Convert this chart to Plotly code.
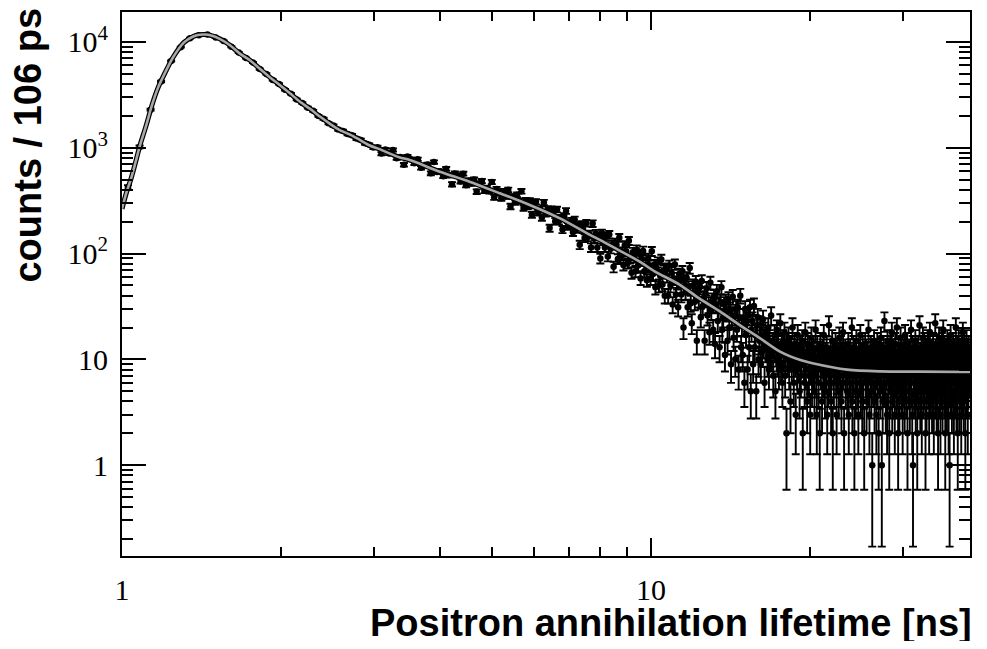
import numpy as np
import plotly.graph_objects as go

# histogram bins (ns); drawn bin centres
BIN_WIDTH = 0.053
FIRST_CENTER = 1.0265

# counts: rising edge + peak, slope, flat tail
counts_rise = [
    421, 1018, 2291, 4230, 6620, 8925, 10850, 11590, 11790, 11010,
    10220, 9010, 7960, 7060, 6390, 5540, 4990, 4380, 4010, 3540,
    3235, 2860, 2650, 2390, 2232, 2001, 1880, 1703, 1621, 1486,
    1440, 1351, 1312, 1220, 1182, 1100, 1068, 1005,
]
counts_slope = [
    1013, 880, 962, 881, 952, 796, 819, 691, 826, 777,
    713, 779, 647, 681, 694, 574, 733, 591, 599, 539,
    632, 549, 452, 572, 547, 481, 569, 443, 491, 459,
    501, 385, 460, 484, 392, 416, 388, 475, 340, 407,
    379, 333, 388, 347, 400, 279, 346, 307, 359, 313,
    388, 270, 317, 280, 315, 233, 285, 308, 244, 262,
    219, 304, 239, 263, 174, 263, 242, 202, 261, 203,
    217, 169, 226, 253, 181, 191, 203, 159, 209, 170,
    183, 121, 188, 169, 140, 194, 143, 152, 114, 192,
    138, 155, 114, 146, 90, 156, 132, 114, 145, 94,
    151, 111, 121, 75, 127, 121, 89, 141, 91, 104,
    78, 120, 105, 81, 132, 90, 66, 103, 92, 68,
    109, 77, 99, 58, 89, 106, 68, 78, 56, 90,
    77, 58, 105, 64, 78, 48, 72, 83, 50, 62,
    88, 51, 69, 40, 72, 61, 40, 77, 50, 66,
    33, 58, 79, 41, 53, 31, 64, 56, 41, 68,
    20, 55, 43, 59, 31, 48, 73, 34, 22, 50,
    42, 35, 54, 15, 45, 37, 48, 25, 55, 32,
    38, 15, 42, 47, 26, 33, 18, 53, 29, 36,
    19, 39, 14, 33, 44, 23, 29, 13, 35, 48,
    19, 25, 33, 11, 35, 28, 15, 37, 20, 29,
    9, 24, 39, 16, 26, 10, 30, 19, 31, 8,
    25, 40, 13, 21, 11, 25, 6, 30, 17, 23,
    8, 26, 13, 31, 5, 19, 23, 9, 32, 13,
    17, 5, 21, 25, 10,
]
counts_tail = [
    15, 21, 9, 17, 12, 24, 14, 6, 18, 13, 16, 10, 20, 8, 15, 12, 26, 11, 14, 7,
    13, 17, 5, 12, 19, 10, 14, 8, 11, 22, 9, 13, 6, 15, 11, 18, 7, 12, 2, 14,
    10, 16, 8, 12, 4, 13, 9, 20, 11, 6, 14, 10, 3, 12, 8, 17, 9, 11, 5, 13,
    7, 10, 15, 2, 12, 9, 6, 18, 8, 11, 4, 14, 10, 7, 13, 3, 9, 16, 6, 11,
    8, 12, 5, 10, 19, 7, 3, 13, 9, 6, 11, 2, 14, 8, 10, 4, 12, 7, 17, 9,
    5, 11, 8, 13, 3, 10, 6, 21, 9, 7, 12, 4, 8, 15, 2, 10, 6, 11, 9, 14,
    7, 3, 12, 8, 10, 5, 16, 9, 6, 13, 4, 11, 7, 18, 8, 2, 10, 12, 6, 9,
    11, 5, 8, 14, 3, 9, 7, 12, 6, 10, 20, 4, 8, 13, 7, 2, 11, 9, 5, 15,
    8, 6, 10, 3, 12, 7, 9, 17, 5, 11, 8, 4, 13, 6, 10, 2, 9, 14, 7, 12,
    4, 8, 11, 6, 19, 9, 3, 10, 7, 13, 5, 8, 1, 12, 6, 9, 15, 4, 10, 7,
    11, 3, 8, 14, 6, 9, 2, 12, 7, 10, 5, 16, 8, 1, 11, 4, 9, 13, 6, 23,
    7, 10, 4, 12, 8, 3, 15, 9, 6, 11, 2, 8, 13, 5, 10, 7, 18, 4, 9, 12,
    6, 8, 11, 3, 14, 7, 9, 5, 20, 10, 6, 2, 12, 8, 4, 11, 7, 16, 9, 5,
    13, 8, 3, 10, 6, 12, 9, 4, 17, 7, 11, 5, 8, 14, 2, 10, 6, 9, 12, 7,
    4, 11, 8, 19, 6, 9, 3, 13, 1, 10, 7, 5, 12, 8, 15, 4, 9, 11, 6, 2,
    10, 7, 13, 5, 8, 21, 9, 4, 11, 6, 12, 3, 8, 10, 16, 7, 5, 9, 14, 6,
    11, 2, 8, 12, 4, 9, 7, 15, 10, 6, 13, 3, 8, 18, 5, 11, 9, 7, 12, 4,
    10, 6, 14, 8, 3, 11, 7, 9, 22, 5, 12, 8, 4, 10, 6, 13, 2, 9, 7, 16,
    5, 11, 8, 3, 12, 9, 6, 14, 10, 4, 7, 19, 8, 11, 5, 13, 9, 2, 10, 6,
    12, 7, 4, 15, 9, 8, 11, 3, 13, 6, 1, 10, 7, 17, 5, 9, 12, 4, 8, 11,
    6, 14, 9, 3, 10, 7, 12, 5, 8, 20, 11, 4, 9, 13, 6, 2, 10, 8, 15, 7,
    9, 4, 12, 6, 11, 8, 3, 14, 10, 5, 7, 18, 9, 12, 4, 8, 13, 6, 10, 2,
    11, 7, 9, 15, 5, 12, 8, 3, 10, 6, 13, 9, 7,
]

# fitted lifetime spectrum
fit_time = [
    1.00, 1.02, 1.04, 1.06, 1.08, 1.11, 1.14, 1.17, 1.20, 1.25,
    1.31, 1.36, 1.40, 1.44, 1.47, 1.53, 1.60, 1.67, 1.745, 1.82,
    1.90, 1.99, 2.08, 2.17, 2.27, 2.37, 2.47, 2.58, 2.70, 2.82,
    2.94, 3.07, 3.21, 3.35, 3.50, 3.99, 4.54, 5.18, 5.90, 6.73,
    7.67, 8.02, 8.74, 9.52, 10.16, 11.34, 12.32, 13.5, 14.7, 16.06,
    17.5, 19.1, 20.2, 23.5, 27.1, 32.0, 40.1,
]
fit_counts = [
    265, 380, 510, 720, 1030, 1600, 2550, 3700, 4850, 7200,
    9900, 11200, 11700, 11750, 11550, 10700, 9300, 7760, 6720, 5600,
    4670, 3900, 3250, 2720, 2320, 1960, 1690, 1470, 1330, 1180,
    1050, 970, 880, 810, 765, 594, 478, 371, 288, 215,
    150, 134, 106, 84, 68, 50.7, 37.9, 28.4, 21.2, 15.9,
    11.9, 9.9, 9.2, 8.0, 7.7, 7.65, 7.6,
]

x_major = [1, 10]
x_major_text = ["1", "10"]
x_minor = [2, 3, 4, 5, 6, 7, 8, 9, 20, 30, 40]
y_major = [1, 10, 100, 1000, 10000]
y_major_text = ["1", "10", "10<sup>2</sup>", "10<sup>3</sup>", "10<sup>4</sup>"]
y_minor = [m * 10.0 ** e for e in range(-1, 4) for m in range(2, 10)]

c = np.array(counts_rise + counts_slope + counts_tail, dtype=float)
t = FIRST_CENTER + BIN_WIDTH * np.arange(len(c))
err_hi = np.sqrt(c)
err_lo = np.where(c > 1, np.sqrt(c), 0.83 * c)

fig = go.Figure()
fig.add_trace(go.Scatter(
    x=t, y=c, mode="markers",
    marker=dict(color="black", size=6.5, line=dict(width=0)),
    error_y=dict(type="data", symmetric=False, array=err_hi, arrayminus=err_lo,
                 color="black", thickness=1.9, width=4),
    hoverinfo="skip",
))
# fit curve: dark rim under the grey line
fig.add_trace(go.Scatter(
    x=fit_time, y=fit_counts, mode="lines",
    line=dict(color="black", width=5, shape="spline", smoothing=0.8),
    hoverinfo="skip",
))
fig.add_trace(go.Scatter(
    x=fit_time, y=fit_counts, mode="lines",
    line=dict(color="#a8a8a8", width=2.6, shape="spline", smoothing=0.8),
    hoverinfo="skip",
))

tick_font = dict(family="Liberation Serif", size=30, color="black")
axis_common = dict(
    type="log", showline=True, linecolor="black", linewidth=2, mirror="ticks",
    ticks="inside", tickwidth=1.5, tickcolor="black", showgrid=False,
    zeroline=False, tickfont=tick_font, tickmode="array",
)

# page body has an 8 px margin, so the figure is 16 px smaller than the window
fig.update_layout(
    width=971, height=633,
    margin=dict(l=114, r=9, t=2, b=85),
    paper_bgcolor="white", plot_bgcolor="white",
    showlegend=False,
    xaxis=dict(
        **axis_common, range=[0, np.log10(40.1)],
        tickvals=x_major, ticktext=x_major_text, ticklen=18,
        ticklabelstandoff=6,
        minor=dict(tickmode="array", tickvals=x_minor, ticks="inside",
                   ticklen=9, tickwidth=1.5, tickcolor="black", showgrid=False),
    ),
    yaxis=dict(
        **axis_common, range=[-0.8585, 4.283],
        tickvals=y_major, ticktext=y_major_text, ticklen=24,
        ticklabelstandoff=6,
        minor=dict(tickmode="array", tickvals=y_minor, ticks="inside",
                   ticklen=11, tickwidth=1.5, tickcolor="black", showgrid=False),
    ),
    annotations=[
        dict(text="<b>Positron annihilation lifetime [ns]</b>",
             xref="paper", yref="paper", x=1.005, y=(556 - 623) / 546,
             xanchor="right", yanchor="middle", showarrow=False,
             font=dict(family="Liberation Sans", size=38, color="black")),
        dict(text="<b>counts / 106 ps</b>",
             xref="paper", yref="paper", x=(28 - 122) / 848, y=(556 - 144) / 546,
             xanchor="center", yanchor="middle", showarrow=False, textangle=-90,
             font=dict(family="Liberation Sans", size=38, color="black")),
    ],
)

fig.write_html("out.html")
